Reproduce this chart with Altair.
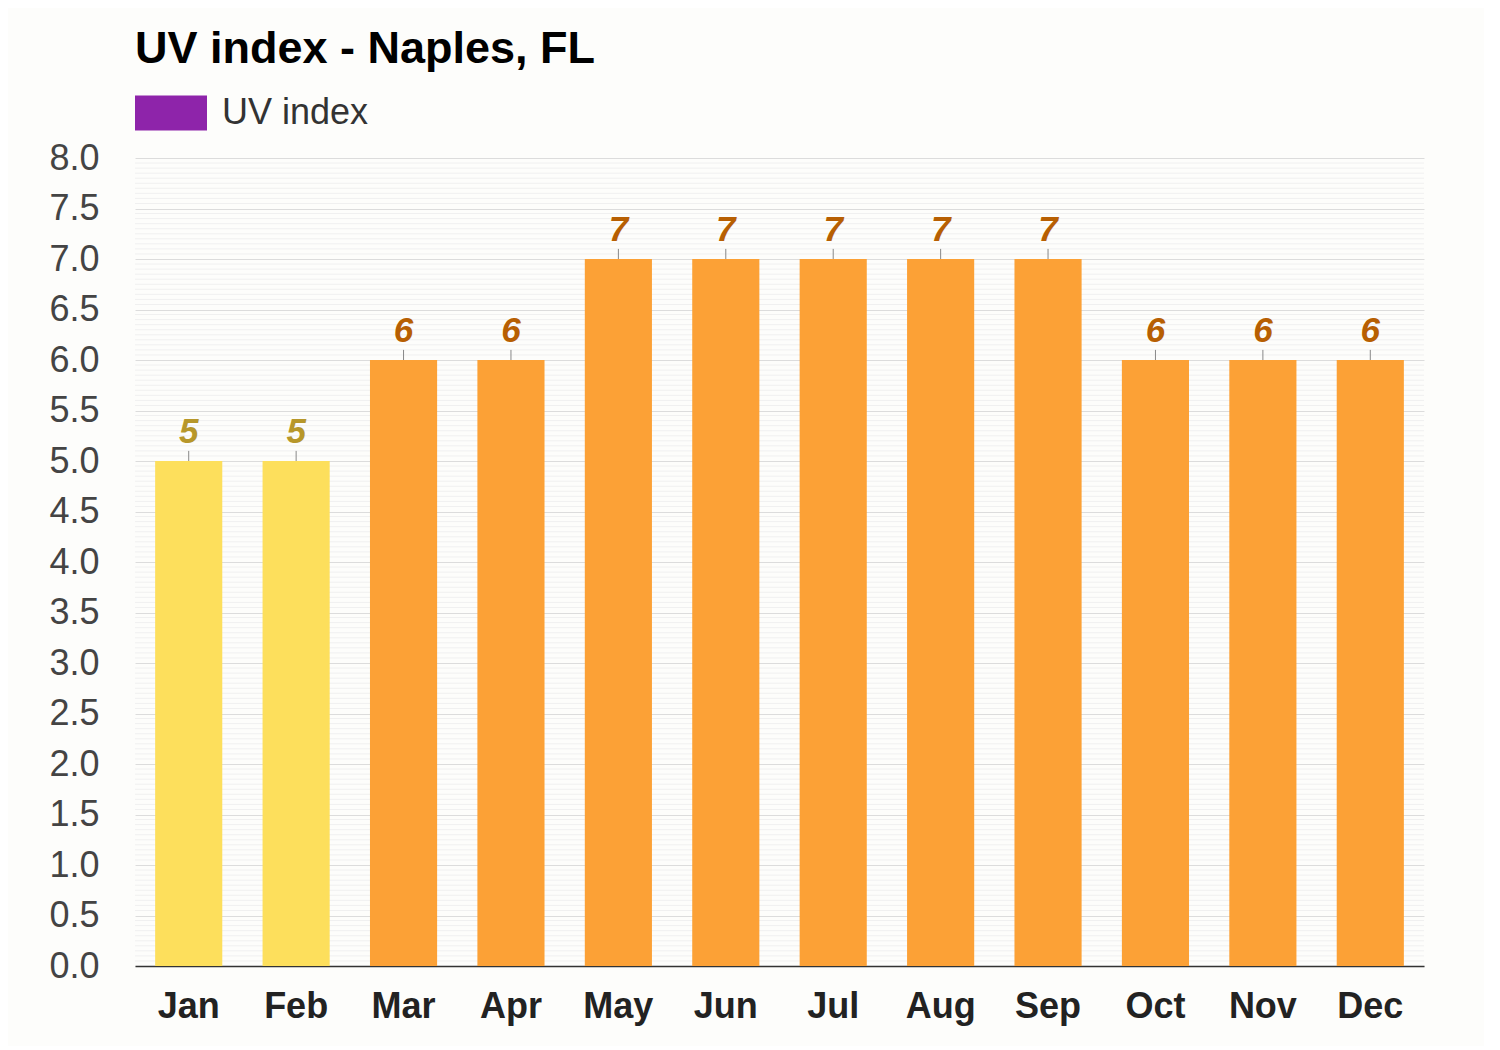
import altair as alt
import pandas as pd
import numpy as np

months = ["Jan", "Feb", "Mar", "Apr", "May", "Jun", "Jul", "Aug", "Sep", "Oct", "Nov", "Dec"]
uv = [5, 5, 6, 6, 7, 7, 7, 7, 7, 6, 6, 6]
bar_colors = ["#fddf5c", "#fddf5c", "#fca136", "#fca136", "#fca136", "#fca136",
              "#fca136", "#fca136", "#fca136", "#fca136", "#fca136", "#fca136"]
label_colors = ["#b7972a", "#b7972a", "#b75f02", "#b75f02", "#b75f02", "#b75f02",
                "#b75f02", "#b75f02", "#b75f02", "#b75f02", "#b75f02", "#b75f02"]

df = pd.DataFrame({"month": months, "uv": uv, "bar_color": bar_colors,
                   "label_color": label_colors, "series": ["UV index"] * 12})

minor = [round(v, 2) for v in np.arange(0, 8.0001, 0.05) if abs(v / 0.5 - round(v / 0.5)) > 1e-6]
grid_df = pd.DataFrame({"g": minor})

FONT = "Liberation Sans"
W, H = 1289, 808

yscale = alt.Scale(domain=[0, 8], nice=False)
xscale = alt.Scale(domain=months, paddingInner=0.375, paddingOuter=0.1875)

yaxis = alt.Axis(title=None, values=[i * 0.5 for i in range(17)], format=".1f",
                 labelFont=FONT, labelFontSize=36, labelColor="#444444",
                 labelPadding=36, ticks=False, domain=False,
                 grid=True, gridColor="#dcdcdc", gridWidth=1)

xaxis = alt.Axis(title=None, labelAngle=0, labelFont=FONT, labelFontSize=36,
                 labelFontWeight="bold", labelColor="#222222", labelPadding=23,
                 ticks=False, domain=True, domainColor="#333333", domainWidth=1.5,
                 grid=False)

grid = alt.Chart(grid_df).mark_rule(color="#f0f0f0", strokeWidth=1).encode(
    y=alt.Y("g:Q", scale=yscale, axis=yaxis)
)

legend_layer = alt.Chart(df).mark_bar(opacity=0).encode(
    x=alt.X("month:N", sort=months, scale=xscale, axis=xaxis),
    y=alt.Y("uv:Q", scale=yscale, axis=yaxis),
    color=alt.Color("series:N", scale=alt.Scale(domain=["UV index"], range=["#8e24aa"]),
                    legend=alt.Legend(title=None, orient="none", legendX=0, legendY=-81,
                                      symbolType="M-1,-0.486H1V0.486H-1Z", symbolSize=5184,
                                      symbolStrokeWidth=0, symbolOpacity=1,
                                      symbolFillColor="#8e24aa",
                                      labelFont=FONT, labelFontSize=36, labelColor="#333333",
                                      labelOffset=15, padding=0)),
)

bars = alt.Chart(df).mark_bar().encode(
    x=alt.X("month:N", sort=months, scale=xscale, axis=xaxis),
    y=alt.Y("uv:Q", scale=yscale, axis=yaxis),
    fill=alt.Fill("bar_color:N", scale=None),
)

ticks = alt.Chart(df).transform_calculate(top="datum.uv + 0.1").mark_rule(
    color="#888888", strokeWidth=1
).encode(
    x=alt.X("month:N", sort=months, scale=xscale, axis=xaxis),
    y=alt.Y("uv:Q", scale=yscale, axis=yaxis),
    y2="top:Q",
)

labels = alt.Chart(df).mark_text(
    font=FONT, fontSize=35, fontWeight="bold", fontStyle="italic",
    baseline="alphabetic", dy=-18
).encode(
    x=alt.X("month:N", sort=months, scale=xscale, axis=xaxis),
    y=alt.Y("uv:Q", scale=yscale, axis=yaxis),
    text=alt.Text("uv:Q"),
    color=alt.Color("label_color:N", scale=None),
)

chart = alt.layer(grid, legend_layer, bars, ticks, labels).properties(
    width=W, height=H,
    title=alt.TitleParams("UV index - Naples, FL", anchor="start", frame="group",
                          font=FONT, fontSize=45, fontWeight="bold", color="#000000",
                          baseline="alphabetic", offset=0, dy=31),
    autosize=alt.AutoSizeParams(type="none"),
    padding={"left": 127, "top": 150, "right": 60, "bottom": 80},
    background="#fdfdfb",
).configure_view(stroke=None)

chart.save("out.html", embed_options={"renderer": "svg", "actions": False})
